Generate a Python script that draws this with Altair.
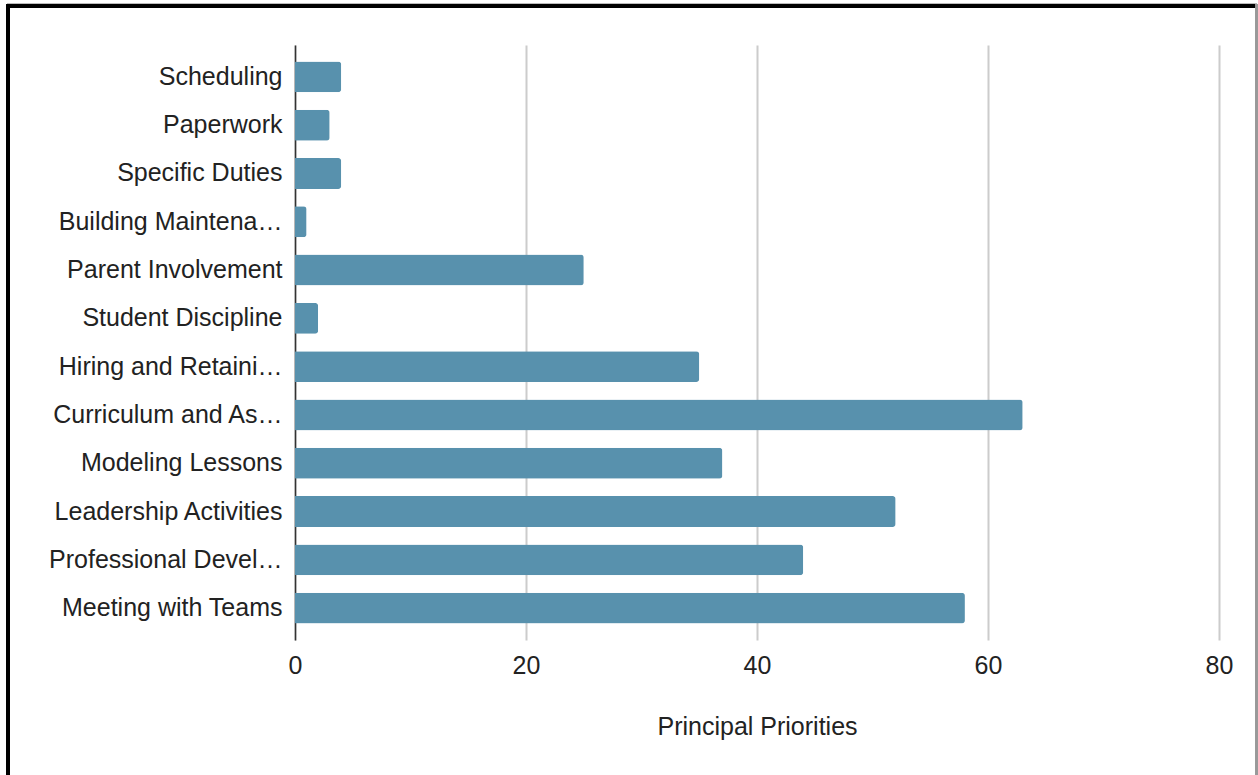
import altair as alt
import pandas as pd

# Categories, top to bottom
categories = [
    "Scheduling",
    "Paperwork",
    "Specific Duties",
    "Building Maintenance",
    "Parent Involvement",
    "Student Discipline",
    "Hiring and Retaining Staff",
    "Curriculum and Assessment",
    "Modeling Lessons",
    "Leadership Activities",
    "Professional Development",
    "Meeting with Teams",
]
counts = [4, 3, 4, 1, 25, 2, 35, 63, 37, 52, 44, 58]

x_ticks = [0, 20, 40, 60, 80]

df = pd.DataFrame({"category": categories, "count": counts})

FONT = "Liberation Sans"
TEXT = "#222222"
BAR = "#5891ad"
FS = 25

bars = alt.Chart(df).mark_bar(color=BAR, cornerRadiusEnd=3).encode(
    x=alt.X(
        "count:Q",
        scale=alt.Scale(domain=[0, 80], nice=False),
        axis=alt.Axis(
            values=x_ticks,
            title="Principal Priorities",
            grid=True,
            gridColor="#cccccc",
            gridWidth=2,
            domain=False,
            ticks=False,
            labelFlush=False,
            labelPadding=13,
            labelFontSize=FS,
            labelColor=TEXT,
            labelFont=FONT,
            titleFont=FONT,
            titleFontSize=FS,
            titleFontWeight="normal",
            titleColor=TEXT,
            titlePadding=36,
        ),
    ),
    y=alt.Y(
        "category:N",
        sort=categories,
        scale=alt.Scale(paddingInner=0.36, paddingOuter=0.34),
        axis=alt.Axis(
            title=None,
            domain=True,
            domainColor="#333333",
            domainWidth=1.5,
            ticks=False,
            grid=False,
            labelPadding=13,
            labelFontSize=FS,
            labelColor=TEXT,
            labelFont=FONT,
            labelLimit=236,
        ),
    ),
)

# Outer frame lines around the figure
frame_top = alt.Chart(df).mark_rule(color="#000000", strokeWidth=3).encode(
    x=alt.value(-288), x2=alt.value(962), y=alt.value(-39)
)
frame_top_shadow = alt.Chart(df).mark_rule(color="#bbbbbb", strokeWidth=1).encode(
    x=alt.value(-288), x2=alt.value(962), y=alt.value(-41.5)
)
frame_left = alt.Chart(df).mark_rule(color="#000000", strokeWidth=3).encode(
    x=alt.value(-287), y=alt.value(-40.5), y2=alt.value(735)
)
frame_right = alt.Chart(df).mark_rule(color="#999999", strokeWidth=1.5).encode(
    x=alt.value(961.5), y=alt.value(-41), y2=alt.value(735)
)

chart = (
    alt.layer(bars, frame_top_shadow, frame_top, frame_left, frame_right)
    .properties(
        width=924,
        height=595,
        autosize=alt.AutoSizeParams(type="none"),
        padding={"left": 295, "top": 45, "right": 39, "bottom": 135},
        background="white",
    )
    .configure_view(stroke=None)
)

chart.save("out.html", embed_options={"renderer": "svg", "actions": False})
